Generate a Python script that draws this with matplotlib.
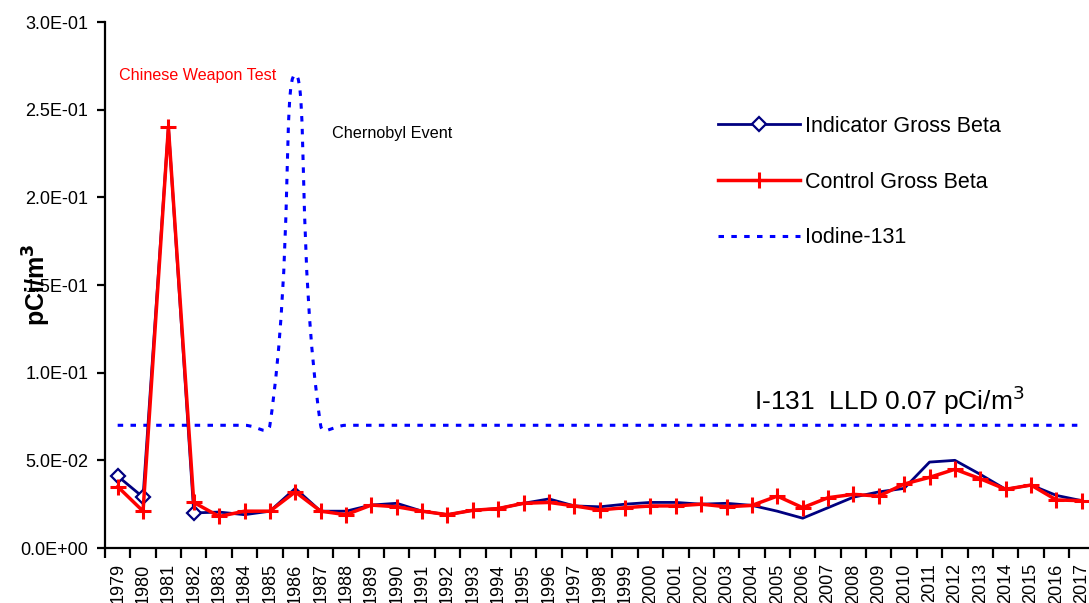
import numpy as np
import matplotlib
matplotlib.use('Agg')
import matplotlib.pyplot as plt
from matplotlib.path import Path
from matplotlib.patches import PathPatch
from matplotlib.lines import Line2D
from matplotlib.ticker import FixedLocator, FuncFormatter, NullFormatter

plt.rcParams['font.family'] = ['Liberation Sans', 'DejaVu Sans']

years = ['1979', '1980', '1981', '1982', '1983', '1984', '1985', '1986', '1987', '1988',
         '1989', '1990', '1991', '1992', '1993', '1994', '1995', '1996', '1997', '1998',
         '1999', '2000', '2001', '2002', '2003', '2004', '2005', '2006', '2007', '2008',
         '2009', '2010', '2011', '2012', '2013', '2014', '2015', '2016', '2017']

indicator = [0.041, 0.029, 0.240, 0.020, 0.0205, 0.019, 0.021, 0.034, 0.021, 0.021,
             0.0245, 0.0255, 0.021, 0.019, 0.0215, 0.0225, 0.0255, 0.028, 0.024, 0.0235,
             0.025, 0.026, 0.026, 0.025, 0.0255, 0.0243, 0.021, 0.017, 0.023, 0.029,
             0.032, 0.034, 0.049, 0.050, 0.042, 0.0335, 0.0359, 0.030, 0.027]

control = [0.035, 0.021, 0.240, 0.026, 0.018, 0.021, 0.021, 0.032, 0.021, 0.019,
           0.0245, 0.0235, 0.021, 0.019, 0.0215, 0.0225, 0.0255, 0.026, 0.024, 0.0217,
           0.023, 0.024, 0.024, 0.025, 0.0235, 0.0243, 0.0296, 0.023, 0.0287, 0.0306,
           0.0296, 0.0365, 0.0403, 0.0449, 0.0395, 0.0335, 0.0359, 0.0274, 0.027]

iodine = [0.07, 0.07, 0.07, 0.07, 0.07, 0.07, 0.07, 0.27, 0.07, 0.07,
          0.07, 0.07, 0.07, 0.07, 0.07, 0.07, 0.07, 0.07, 0.07, 0.07,
          0.07, 0.07, 0.07, 0.07, 0.07, 0.07, 0.07, 0.07, 0.07, 0.07,
          0.07, 0.07, 0.07, 0.07, 0.07, 0.07, 0.07, 0.07, 0.07]


def smooth_path(ax, xs, ys, t=0.5):
    # excel-like smoothed line, control points worked out in screen space
    pts = ax.transData.transform(np.column_stack([xs, ys]))
    n = len(pts)
    d = np.hypot(*np.diff(pts, axis=0).T)
    verts, codes = [pts[0]], [Path.MOVETO]
    for i in range(n - 1):
        p0 = pts[i - 1] if i > 0 else pts[i]
        p1, p2 = pts[i], pts[i + 1]
        p3 = pts[i + 2] if i + 2 < n else pts[i + 1]
        d0 = d[i - 1] if i > 0 else d[i]
        d1 = d[i]
        d2 = d[i + 1] if i + 1 < n - 1 else d[i]
        c1 = p1 + t * (p2 - p0) * d1 / (d0 + d1)
        c2 = p2 - t * (p3 - p1) * d1 / (d1 + d2)
        verts += [c1, c2, p2]
        codes += [Path.CURVE4] * 3
    verts = ax.transData.inverted().transform(np.array(verts))
    return Path(verts, codes)


fig = plt.figure(figsize=(10.89, 6.03), dpi=100)
ax = fig.add_axes([0.0964, 0.0912, 0.9086, 0.8723])
x = np.arange(len(years))
ax.set_xlim(-0.5, len(years) - 0.5)
ax.set_ylim(0, 0.3)

dash = (0, (1.8, 2.4))
iod = PathPatch(smooth_path(ax, x, iodine), fill=False, edgecolor='#0000ff',
                linewidth=2.2, linestyle=dash, capstyle='butt', zorder=2)
ax.add_patch(iod)

ax.plot(x, indicator, color='#000080', lw=2.0, marker='D', ms=7, mfc='white',
        mec='#000080', mew=1.6, markevery=[0, 1, 3], zorder=3)
ax.plot(x, control, color='#ff0000', lw=2.5, marker='+', ms=12, mew=2.2, zorder=4)

# axes styling
for s in ['top', 'right']:
    ax.spines[s].set_visible(False)
for s in ['left', 'bottom']:
    ax.spines[s].set_linewidth(1.6)
ax.set_yticks([0, 0.05, 0.1, 0.15, 0.2, 0.25, 0.3])
ax.yaxis.set_major_formatter(FuncFormatter(lambda v, p: f'{v:.1E}'))
ax.tick_params(axis='y', direction='out', length=6, width=1.6, labelsize=13, pad=6)
ax.set_xticks(x)
ax.set_xticklabels(years, rotation=90)
ax.xaxis.set_minor_locator(FixedLocator(np.arange(-0.5, len(years), 1)))
ax.xaxis.set_minor_formatter(NullFormatter())
ax.tick_params(axis='x', which='major', length=0, labelsize=13, pad=11)
ax.tick_params(axis='x', which='minor', direction='out', length=7, width=1.6)

ax.set_ylabel(r'pCi/m$^\mathbf{3}$', fontsize=18, fontweight='bold')
ax.yaxis.set_label_coords(-0.053, 0.5)

# annotations
ax.text(0.05, 0.2697, 'Chinese Weapon Test', color='#ff0000', fontsize=11.6, va='center')
ax.text(8.45, 0.2366, 'Chernobyl Event', color='black', fontsize=11.7, va='center')
ax.text(25.1, 0.0844, r'I-131  LLD 0.07 pCi/m$^3$', color='black', fontsize=19, va='center')

handles = [
    Line2D([], [], color='#000080', lw=2.0, marker='D', ms=7, mfc='white', mec='#000080', mew=1.6),
    Line2D([], [], color='#ff0000', lw=2.5, marker='+', ms=12, mew=2.2),
    Line2D([], [], color='#0000ff', lw=2.2, linestyle=dash, dash_capstyle='butt'),
]
labels = ['Indicator Gross Beta', 'Control Gross Beta', 'Iodine-131']
fig.legend(handles, labels, loc='center left', bbox_to_anchor=(718 / 1089, 1 - 182 / 603),
           frameon=False, fontsize=15.5, handlelength=3.8, handletextpad=0.25,
           labelspacing=1.62, borderpad=0, borderaxespad=0)

fig.savefig('out.png', dpi=100)
